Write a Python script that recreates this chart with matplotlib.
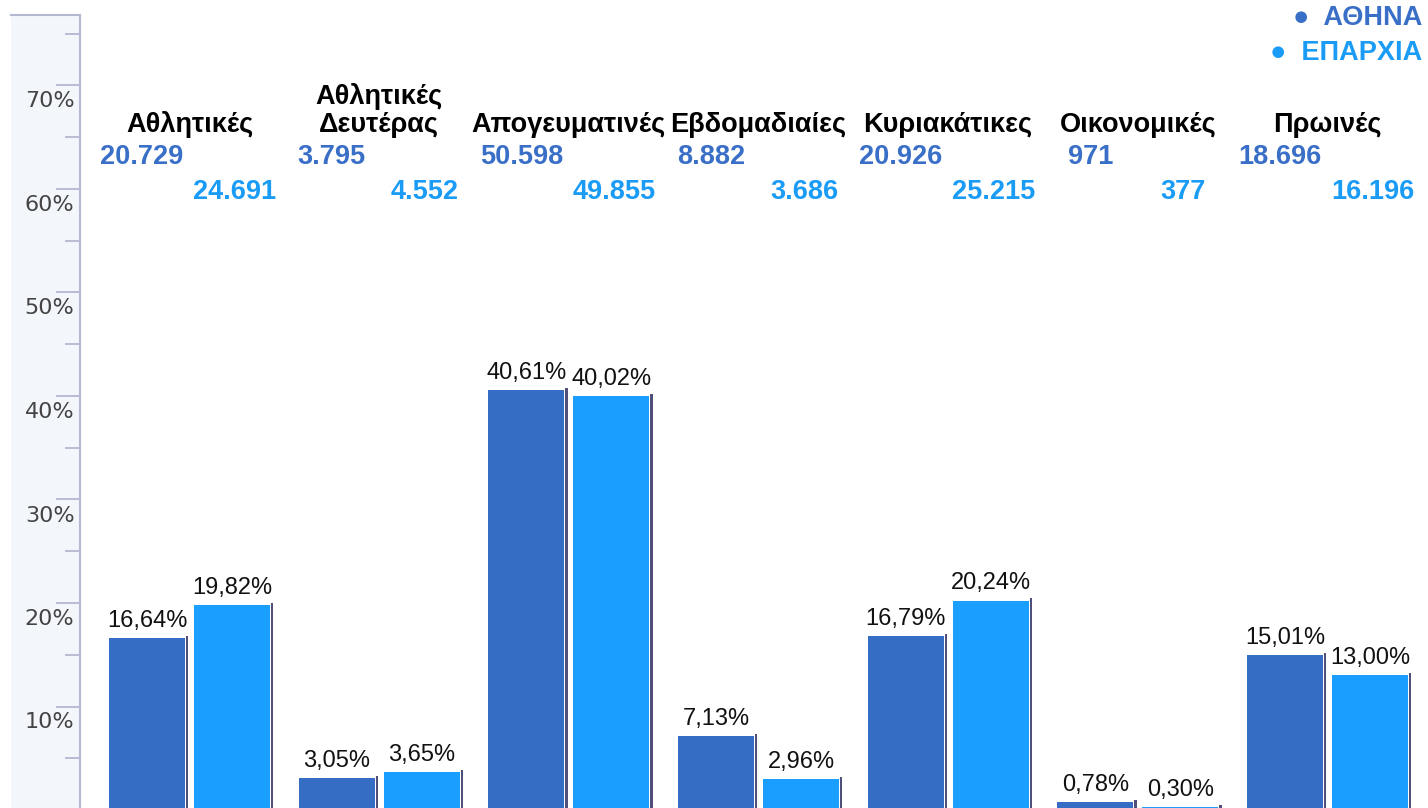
import matplotlib
matplotlib.use('Agg')
import matplotlib.pyplot as plt
import matplotlib.transforms as mtransforms
from matplotlib.patches import Rectangle
from matplotlib.ticker import MultipleLocator, FuncFormatter
import numpy as np

plt.rcParams['font.family'] = ['Liberation Sans', 'DejaVu Sans']

# sales share per newspaper category, Athens vs. the provinces
categories = ['Αθλητικές', 'Αθλητικές\nΔευτέρας', 'Απογευματινές', 'Εβδομαδιαίες',
              'Κυριακάτικες', 'Οικονομικές', 'Πρωινές']
athens_pct = [16.64, 3.05, 40.61, 7.13, 16.79, 0.78, 15.01]
province_pct = [19.82, 3.65, 40.02, 2.96, 20.24, 0.30, 13.00]
athens_cnt = [20729, 3795, 50598, 8882, 20926, 971, 18696]
province_cnt = [24691, 4552, 49855, 3686, 25215, 377, 16196]
series_names = ['ΑΘΗΝΑ', 'ΕΠΑΡΧΙΑ']

dark = '#356cc4'
light = '#1a9eff'
dark_txt = '#3a6fc8'
light_txt = '#1a9cf6'
shadow = '#50507a'

W, H = 1428, 808
fig = plt.figure(figsize=(W / 100, H / 100), dpi=100)
# plot area: x 80..1428 px, y 15..810 px (from top)
ax = fig.add_axes([80 / W, -2 / H, (W - 80) / W, (810 - 15) / H])
ax.set_facecolor('white')

# light strip behind the y axis
fig.patches.append(Rectangle((11 / W, 0), 69 / W, (H - 15) / H, transform=fig.transFigure,
                             facecolor='#f3f6fb', edgecolor='none', zorder=-1))
fig.add_artist(plt.Line2D([11 / W, 80 / W], [(H - 15) / H] * 2, transform=fig.transFigure,
                          color='#b4b8d0', lw=1.5))

x = np.arange(len(categories))
off = 0.224
bw = 0.40
px = 1 / 189.67

ax.bar(x - off, athens_pct, width=bw, color=dark, zorder=3)
ax.bar(x + off, province_pct, width=bw, color=light, zorder=3)
# thin dark edge on the right of each bar
ax.bar(x - off + bw / 2 + 1 * px, np.array(athens_pct) + 0.2, width=2.5 * px,
       align='edge', color=shadow, zorder=3)
ax.bar(x + off + bw / 2 + 1 * px, np.array(province_pct) + 0.2, width=2.5 * px,
       align='edge', color=shadow, zorder=3)

def pct(v):
    return f'{v:.2f}%'.replace('.', ',')

def thousands(v):
    return f'{v:,}'.replace(',', '.')

for i in range(len(categories)):
    ax.annotate(pct(athens_pct[i]), (x[i] - off, athens_pct[i]), xytext=(0, 8),
                textcoords='offset points', ha='center', va='baseline', fontsize=17, color='#111111')
    ax.annotate(pct(province_pct[i]), (x[i] + off, province_pct[i]), xytext=(0, 8),
                textcoords='offset points', ha='center', va='baseline', fontsize=17, color='#111111')

# category names and absolute counts above the plot
trans = mtransforms.blended_transform_factory(ax.transData, fig.transFigure)
for i, name in enumerate(categories):
    ax.text(x[i], 1 - 132 / H, name, transform=trans, ha='center', va='baseline',
            fontsize=19.5, fontweight='bold', color='black', linespacing=1.1)
    ax.text(x[i] - off - 5 * px, 1 - 157 / H, thousands(athens_cnt[i]), transform=trans,
            ha='center', va='center', fontsize=19.5, fontweight='bold', color=dark_txt)
    ax.text(x[i] + off + 3 * px, 1 - 192 / H, thousands(province_cnt[i]), transform=trans,
            ha='center', va='center', fontsize=19.5, fontweight='bold', color=light_txt)

# legend text in the top right corner
fig.text(1422 / W, 1 - 18 / H, '●  ' + series_names[0], ha='right', va='center',
         fontsize=19.5, fontweight='bold', color=dark_txt)
fig.text(1422 / W, 1 - 53 / H, '●  ' + series_names[1], ha='right', va='center',
         fontsize=19.5, fontweight='bold', color=light_txt)

ax.set_xlim(-0.5773, -0.5773 + (W - 80) * px)
ax.set_ylim(0, (810 - 15) / 10.35)
ax.set_xticks([])
ax.yaxis.set_major_locator(MultipleLocator(10))
ax.yaxis.set_minor_locator(MultipleLocator(5))
ax.yaxis.set_major_formatter(FuncFormatter(lambda v, p: '' if v == 0 else f'{v:.0f}%'))
ax.tick_params(axis='y', which='major', direction='out', length=17, width=1.3,
               color='#b4b8d0', pad=-13, labelsize=16, labelcolor='#444444')
ax.tick_params(axis='y', which='minor', direction='out', length=11, width=1.3, color='#b4b8d0')
for lab in ax.get_yticklabels():
    lab.set_fontfamily('DejaVu Sans')
    lab.set_transform(lab.get_transform() +
                      mtransforms.ScaledTranslation(0, -0.14, fig.dpi_scale_trans))
for s in ['top', 'right', 'bottom']:
    ax.spines[s].set_visible(False)
ax.spines['left'].set_color('#b4b8d0')
ax.spines['left'].set_linewidth(1.5)

fig.savefig('out.png', dpi=100, facecolor='white')
